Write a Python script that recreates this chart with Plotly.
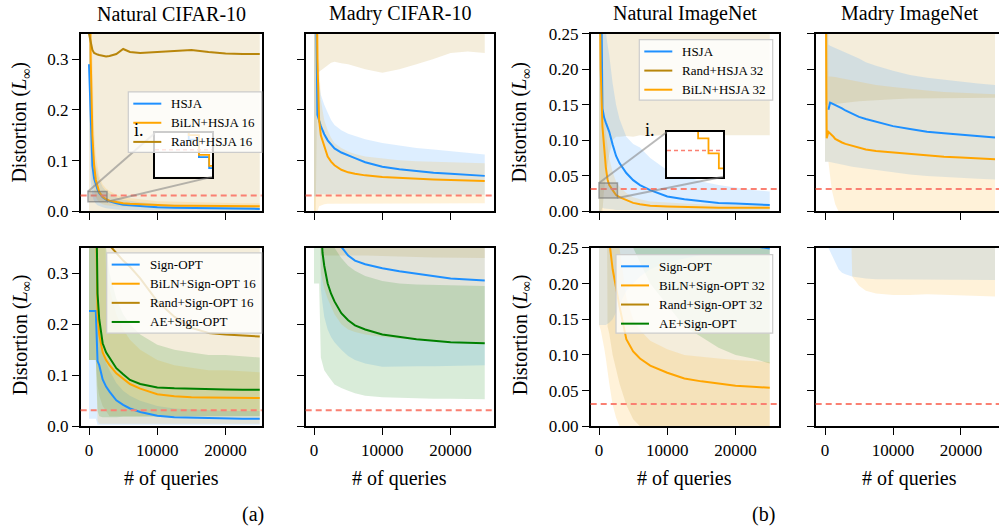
import plotly.graph_objects as go

W, H = 999, 529
FONT = "Liberation Serif"
EPS = 8 / 255

# ---------------- data ----------------
Q = [0, 250, 500, 750, 1000, 1250, 1500, 2000, 2500, 3000, 4000, 5000, 6000,
     7500, 10000, 12500, 15000, 17500, 20000, 22500, 25000]

# Panel 1: Natural CIFAR-10, HSJA
nc_hsja = [0.29, 0.17, 0.09, 0.065, 0.052, 0.043, 0.036, 0.028, 0.023, 0.02, 0.016, 0.013, 0.012, 0.01, 0.008, 0.007, 0.0065, 0.006, 0.0055, 0.005, 0.005]
nc_biln = [0.6, 0.3, 0.15, 0.09, 0.062, 0.047, 0.038, 0.029, 0.024, 0.021, 0.018, 0.016, 0.015, 0.014, 0.012, 0.011, 0.011, 0.0105, 0.01, 0.01, 0.01]
nc_rand = [0.35, 0.33, 0.318, 0.312, 0.31, 0.309, 0.308, 0.306, 0.305, 0.306, 0.31, 0.32, 0.314, 0.312, 0.314, 0.315, 0.318, 0.314, 0.311, 0.31, 0.31]
nc_hsja_lo = [0.2, 0.06, 0.03, 0.02, 0.015, 0.012, 0.01, 0.008, 0.006, 0.005, 0.004, 0.003, 0.003, 0.002, 0.002, 0.002, 0.002, 0.002, 0.002, 0.002, 0.002]
nc_hsja_hi = [0.35, 0.28, 0.15, 0.11, 0.09, 0.075, 0.062, 0.048, 0.04, 0.035, 0.028, 0.023, 0.021, 0.018, 0.015, 0.013, 0.012, 0.011, 0.01, 0.0095, 0.009]
nc_biln_lo = [0.3, 0.12, 0.06, 0.04, 0.028, 0.022, 0.018, 0.014, 0.012, 0.011, 0.01, 0.009, 0.008, 0.008, 0.007, 0.007, 0.007, 0.006, 0.006, 0.006, 0.006]
nc_biln_hi = [0.6, 0.45, 0.25, 0.16, 0.11, 0.085, 0.07, 0.053, 0.045, 0.04, 0.033, 0.028, 0.026, 0.024, 0.02, 0.019, 0.018, 0.017, 0.016, 0.016, 0.016]
nc_rand_lo = [0.0, 0.0, 0.0, 0.0, 0.0, 0.0, 0.0, 0.0, 0.0, 0.0, 0.0, 0.0, 0.0, 0.0, 0.0, 0.0, 0.0, 0.0, 0.0, 0.0, 0.0]
nc_rand_hi = [0.6, 0.6, 0.6, 0.6, 0.6, 0.6, 0.6, 0.6, 0.6, 0.6, 0.6, 0.6, 0.6, 0.6, 0.6, 0.6, 0.6, 0.6, 0.6, 0.6, 0.6]

# Panel 2: Madry CIFAR-10, HSJA
mc_hsja = [0.6, 0.5, 0.19, 0.178, 0.168, 0.16, 0.152, 0.14, 0.131, 0.124, 0.116, 0.11, 0.105, 0.097, 0.088, 0.083, 0.079, 0.076, 0.074, 0.072, 0.07]
mc_biln = [0.6, 0.6, 0.3, 0.18, 0.15, 0.14, 0.128, 0.108, 0.098, 0.091, 0.082, 0.077, 0.074, 0.071, 0.068, 0.066, 0.064, 0.063, 0.062, 0.061, 0.06]
mc_hsja_lo = [0.03, 0.03, 0.035, 0.035, 0.034, 0.034, 0.033, 0.033, 0.033, 0.033, 0.033, 0.033, 0.033, 0.033, 0.033, 0.033, 0.033, 0.033, 0.033, 0.033, 0.033]
mc_hsja_hi = [0.6, 0.6, 0.28, 0.25, 0.23, 0.22, 0.21, 0.195, 0.18, 0.17, 0.16, 0.153, 0.148, 0.142, 0.135, 0.13, 0.125, 0.122, 0.119, 0.115, 0.112]
mc_biln_lo = [0.0, 0.0, 0.0, 0.01, 0.012, 0.013, 0.014, 0.015, 0.015, 0.015, 0.015, 0.015, 0.015, 0.016, 0.016, 0.016, 0.016, 0.016, 0.016, 0.016, 0.016]
mc_biln_hi = [0.6, 0.6, 0.6, 0.3, 0.22, 0.2, 0.18, 0.16, 0.145, 0.135, 0.125, 0.118, 0.113, 0.108, 0.104, 0.101, 0.099, 0.098, 0.097, 0.096, 0.095]
mc_rand_lo = [0.0, 0.0, 0.27, 0.275, 0.278, 0.28, 0.282, 0.288, 0.293, 0.295, 0.292, 0.29, 0.286, 0.28, 0.273, 0.28, 0.29, 0.3, 0.312, 0.315, 0.312]
mc_rand_hi = [0.6, 0.6, 0.6, 0.6, 0.6, 0.6, 0.6, 0.6, 0.6, 0.6, 0.6, 0.6, 0.6, 0.6, 0.6, 0.6, 0.6, 0.6, 0.6, 0.6, 0.6]

# Panel 3: Natural ImageNet, HSJA
ni_hsja = [0.4, 0.4, 0.145, 0.132, 0.125, 0.118, 0.112, 0.094, 0.078, 0.068, 0.054, 0.044, 0.037, 0.03, 0.021, 0.017, 0.014, 0.012, 0.011, 0.01, 0.009]
ni_biln = [0.4, 0.2, 0.12, 0.085, 0.062, 0.045, 0.037, 0.03, 0.023, 0.02, 0.016, 0.012, 0.01, 0.008, 0.007, 0.006, 0.0055, 0.005, 0.005, 0.005, 0.005]
ni_hsja_lo = [0.0, 0.0, 0.005, 0.004, 0.004, 0.003, 0.003, 0.003, 0.002, 0.002, 0.002, 0.002, 0.002, 0.001, 0.001, 0.001, 0.001, 0.001, 0.001, 0.001, 0.001]
ni_hsja_hi = [0.6, 0.6, 0.3, 0.27, 0.25, 0.235, 0.22, 0.18, 0.15, 0.13, 0.105, 0.095, 0.09, 0.075, 0.058, 0.05, 0.042, 0.037, 0.033, 0.03, 0.028]
ni_biln_lo = [0.0, 0.0, 0.0, 0.0, 0.0, 0.0, 0.0, 0.0, 0.001, 0.001, 0.001, 0.001, 0.001, 0.001, 0.001, 0.001, 0.001, 0.001, 0.001, 0.001, 0.001]
ni_biln_hi = [0.6, 0.3, 0.2, 0.14, 0.11, 0.09, 0.075, 0.055, 0.042, 0.035, 0.026, 0.02, 0.017, 0.014, 0.012, 0.011, 0.01, 0.01, 0.009, 0.009, 0.009]
ni_rand_lo = [0.0, 0.0, 0.0, 0.03, 0.05, 0.065, 0.08, 0.1, 0.105, 0.105, 0.106, 0.105, 0.107, 0.106, 0.108, 0.107, 0.106, 0.107, 0.108, 0.107, 0.107]
ni_rand_hi = [0.6, 0.6, 0.6, 0.6, 0.6, 0.6, 0.6, 0.6, 0.6, 0.6, 0.6, 0.6, 0.6, 0.6, 0.6, 0.6, 0.6, 0.6, 0.6, 0.6, 0.6]

# Panel 4: Madry ImageNet, HSJA
mi_hsja = [None, None, 0.143, 0.153, 0.152, 0.151, 0.15, 0.147, 0.145, 0.142, 0.137, 0.133, 0.13, 0.126, 0.12, 0.116, 0.112, 0.11, 0.108, 0.106, 0.104]
mi_biln = [0.5, 0.103, 0.112, 0.11, 0.108, 0.105, 0.102, 0.099, 0.097, 0.095, 0.092, 0.089, 0.087, 0.085, 0.083, 0.08, 0.078, 0.077, 0.0757, 0.0745, 0.0735]
mi_hsja_lo = [0.07, 0.07, 0.07, 0.07, 0.07, 0.069, 0.068, 0.067, 0.066, 0.065, 0.063, 0.061, 0.06, 0.058, 0.055, 0.052, 0.05, 0.048, 0.047, 0.046, 0.045]
mi_hsja_hi = [0.6, 0.6, 0.235, 0.233, 0.232, 0.231, 0.23, 0.228, 0.226, 0.224, 0.22, 0.215, 0.21, 0.205, 0.198, 0.192, 0.188, 0.185, 0.182, 0.18, 0.178]
mi_biln_lo = [0.07, 0.07, 0.07, 0.05, 0.03, 0.02, 0.01, 0.0, 0.0, 0.0, 0.0, 0.0, 0.0, 0.0, 0.0, 0.0, 0.0, 0.0, 0.0, 0.0, 0.0]
mi_biln_hi = [0.6, 0.6, 0.19, 0.19, 0.19, 0.19, 0.189, 0.188, 0.187, 0.186, 0.184, 0.182, 0.18, 0.178, 0.175, 0.172, 0.17, 0.168, 0.167, 0.166, 0.165]
mi_rand_lo = [0.15, 0.15, 0.15, 0.15, 0.15, 0.15, 0.151, 0.152, 0.152, 0.153, 0.154, 0.155, 0.156, 0.157, 0.158, 0.159, 0.16, 0.16, 0.16, 0.16, 0.16]
mi_rand_hi = [0.6, 0.6, 0.6, 0.6, 0.6, 0.6, 0.6, 0.6, 0.6, 0.6, 0.6, 0.6, 0.6, 0.6, 0.6, 0.6, 0.6, 0.6, 0.6, 0.6, 0.6]

# Panel 5: Natural CIFAR-10, Sign-OPT
ncs_sign = [0.226, 0.226, 0.226, 0.226, 0.226, 0.128, 0.12, 0.092, 0.078, 0.068, 0.051, 0.042, 0.035, 0.028, 0.021, 0.018, 0.017, 0.016, 0.016, 0.015, 0.015]
ncs_biln = [0.6, 0.6, 0.6, 0.6, 0.45, 0.22, 0.18, 0.145, 0.13, 0.12, 0.104, 0.094, 0.083, 0.074, 0.063, 0.059, 0.057, 0.0565, 0.056, 0.0558, 0.0555]
ncs_rand = [0.6, 0.6, 0.6, 0.6, 0.6, 0.6, 0.6, 0.6, 0.6, 0.355, 0.34, 0.325, 0.313, 0.29, 0.245, 0.215, 0.193, 0.183, 0.18, 0.178, 0.176]
ncs_ae = [0.6, 0.6, 0.6, 0.6, 0.5, 0.26, 0.21, 0.163, 0.145, 0.134, 0.114, 0.102, 0.091, 0.083, 0.076, 0.0745, 0.0735, 0.073, 0.0725, 0.072, 0.0717]
ncs_sign_lo = [0.015, 0.015, 0.015, 0.015, 0.015, 0.003, 0.003, 0.003, 0.003, 0.003, 0.003, 0.003, 0.003, 0.003, 0.003, 0.003, 0.003, 0.003, 0.003, 0.003, 0.003]
ncs_sign_hi = [0.6, 0.6, 0.6, 0.6, 0.6, 0.2, 0.18, 0.15, 0.125, 0.11, 0.085, 0.07, 0.06, 0.05, 0.04, 0.035, 0.033, 0.031, 0.03, 0.03, 0.03]
ncs_biln_lo = [0.13, 0.13, 0.13, 0.13, 0.13, 0.01, 0.005, 0.005, 0.005, 0.005, 0.005, 0.005, 0.005, 0.005, 0.005, 0.005, 0.005, 0.005, 0.005, 0.005, 0.005]
ncs_biln_hi = [0.6, 0.6, 0.6, 0.6, 0.6, 0.6, 0.6, 0.6, 0.3, 0.27, 0.22, 0.19, 0.17, 0.15, 0.13, 0.12, 0.115, 0.11, 0.11, 0.108, 0.106]
ncs_rand_lo = [0.13, 0.13, 0.13, 0.13, 0.13, 0.08, 0.06, 0.04, 0.03, 0.02, 0.02, 0.02, 0.02, 0.02, 0.02, 0.02, 0.02, 0.02, 0.02, 0.02, 0.02]
ncs_rand_hi = [0.6, 0.6, 0.6, 0.6, 0.6, 0.6, 0.6, 0.6, 0.6, 0.6, 0.6, 0.6, 0.6, 0.6, 0.6, 0.6, 0.6, 0.6, 0.6, 0.6, 0.6]
ncs_ae_lo = [0.13, 0.13, 0.13, 0.13, 0.13, 0.03, 0.02, 0.018, 0.018, 0.018, 0.018, 0.019, 0.019, 0.019, 0.02, 0.02, 0.02, 0.02, 0.02, 0.02, 0.02]
ncs_ae_hi = [0.6, 0.6, 0.6, 0.6, 0.6, 0.6, 0.6, 0.6, 0.35, 0.3, 0.25, 0.22, 0.2, 0.18, 0.16, 0.15, 0.145, 0.14, 0.14, 0.138, 0.135]

# Panel 6: Madry CIFAR-10, Sign-OPT
mcs_sign = [0.6, 0.6, 0.6, 0.6, 0.6, 0.6, 0.6, 0.6, 0.6, 0.45, 0.352, 0.335, 0.325, 0.318, 0.31, 0.304, 0.299, 0.294, 0.29, 0.288, 0.286]
mcs_ae = [0.6, 0.6, 0.6, 0.6, 0.4, 0.34, 0.315, 0.28, 0.26, 0.245, 0.222, 0.208, 0.198, 0.19, 0.18, 0.175, 0.171, 0.168, 0.165, 0.164, 0.163]
mcs_rand_lo = [0.6, 0.6, 0.6, 0.6, 0.335, 0.335, 0.335, 0.335, 0.335, 0.335, 0.335, 0.335, 0.335, 0.335, 0.335, 0.333, 0.332, 0.331, 0.33, 0.33, 0.33]
mcs_rand_hi = [0.6, 0.6, 0.6, 0.6, 0.6, 0.6, 0.6, 0.6, 0.6, 0.6, 0.6, 0.6, 0.6, 0.6, 0.6, 0.6, 0.6, 0.6, 0.6, 0.6, 0.6]
mcs_sign_lo = [0.6, 0.6, 0.6, 0.6, 0.27, 0.24, 0.215, 0.19, 0.175, 0.165, 0.15, 0.138, 0.13, 0.123, 0.117, 0.117, 0.118, 0.118, 0.119, 0.119, 0.12]
mcs_sign_hi = [0.6, 0.6, 0.6, 0.6, 0.6, 0.6, 0.6, 0.6, 0.6, 0.6, 0.6, 0.6, 0.6, 0.6, 0.6, 0.6, 0.6, 0.6, 0.6, 0.6, 0.6]
mcs_biln_lo = [0.6, 0.6, 0.6, 0.6, 0.3, 0.285, 0.27, 0.25, 0.235, 0.22, 0.2, 0.19, 0.185, 0.18, 0.175, 0.172, 0.17, 0.168, 0.167, 0.166, 0.165]
mcs_biln_hi = [0.6, 0.6, 0.6, 0.6, 0.6, 0.6, 0.6, 0.6, 0.6, 0.6, 0.6, 0.6, 0.6, 0.6, 0.6, 0.6, 0.6, 0.6, 0.6, 0.6, 0.6]
mcs_ae_lo = [0.28, 0.28, 0.28, 0.28, 0.135, 0.125, 0.11, 0.1, 0.09, 0.082, 0.075, 0.07, 0.065, 0.06, 0.057, 0.055, 0.055, 0.054, 0.054, 0.054, 0.053]
mcs_ae_hi = [0.6, 0.6, 0.6, 0.6, 0.6, 0.6, 0.45, 0.4, 0.37, 0.35, 0.33, 0.315, 0.305, 0.295, 0.285, 0.28, 0.278, 0.277, 0.276, 0.275, 0.275]

# Panel 7: Natural ImageNet, Sign-OPT
nis_sign = [0.5, 0.5, 0.5, 0.5, 0.5, 0.48, 0.46, 0.44, 0.42, 0.4, 0.37, 0.35, 0.335, 0.32, 0.3, 0.285, 0.272, 0.263, 0.257, 0.253, 0.249]
nis_biln = [0.5, 0.5, 0.5, 0.5, 0.5, 0.3, 0.26, 0.22, 0.193, 0.168, 0.122, 0.105, 0.095, 0.085, 0.075, 0.067, 0.063, 0.06, 0.057, 0.0555, 0.054]
nis_rand_lo = [0.6, 0.6, 0.6, 0.6, 0.6, 0.14, 0.13, 0.1, 0.08, 0.06, 0.03, 0.01, 0.0, 0.0, 0.0, 0.0, 0.0, 0.0, 0.0, 0.0, 0.0]
nis_rand_hi = [0.6, 0.6, 0.6, 0.6, 0.6, 0.6, 0.6, 0.6, 0.6, 0.6, 0.6, 0.6, 0.6, 0.6, 0.6, 0.6, 0.6, 0.6, 0.6, 0.6, 0.6]
nis_sign_lo = [0.142, 0.142, 0.142, 0.142, 0.142, 0.143, 0.145, 0.15, 0.16, 0.17, 0.19, 0.2, 0.21, 0.22, 0.23, 0.235, 0.24, 0.24, 0.24, 0.24, 0.24]
nis_sign_hi = [0.6, 0.6, 0.6, 0.6, 0.6, 0.6, 0.6, 0.6, 0.6, 0.6, 0.6, 0.6, 0.6, 0.6, 0.6, 0.6, 0.6, 0.6, 0.6, 0.6, 0.6]
nis_biln_lo = [0.142, 0.135, 0.125, 0.11, 0.095, 0.08, 0.06, 0.03, 0.012, 0.0, 0.0, 0.0, 0.0, 0.0, 0.0, 0.0, 0.0, 0.0, 0.0, 0.0, 0.0]
nis_biln_hi = [0.6, 0.6, 0.6, 0.6, 0.6, 0.6, 0.6, 0.6, 0.6, 0.25, 0.18, 0.15, 0.135, 0.12, 0.108, 0.1, 0.097, 0.095, 0.093, 0.092, 0.09]
nis_ae_lo = [0.6, 0.6, 0.6, 0.6, 0.6, 0.6, 0.6, 0.6, 0.6, 0.6, 0.6, 0.25, 0.23, 0.2, 0.17, 0.14, 0.125, 0.11, 0.1, 0.095, 0.088]
nis_ae_hi = [0.6, 0.6, 0.6, 0.6, 0.6, 0.6, 0.6, 0.6, 0.6, 0.6, 0.6, 0.6, 0.6, 0.6, 0.6, 0.6, 0.6, 0.6, 0.6, 0.6, 0.6]

# Panel 8: Madry ImageNet, Sign-OPT
mis_sign_lo = [0.25, 0.25, 0.25, 0.245, 0.24, 0.235, 0.23, 0.22, 0.215, 0.213, 0.21, 0.208, 0.207, 0.206, 0.206, 0.206, 0.205, 0.205, 0.205, 0.205, 0.205]
mis_sign_hi = [0.6, 0.6, 0.6, 0.6, 0.6, 0.6, 0.6, 0.6, 0.6, 0.6, 0.6, 0.6, 0.6, 0.6, 0.6, 0.6, 0.6, 0.6, 0.6, 0.6, 0.6]
mis_biln_lo = [0.6, 0.6, 0.6, 0.6, 0.6, 0.6, 0.6, 0.6, 0.6, 0.6, 0.21, 0.197, 0.19, 0.186, 0.184, 0.184, 0.185, 0.184, 0.183, 0.183, 0.182]
mis_biln_hi = [0.6, 0.6, 0.6, 0.6, 0.6, 0.6, 0.6, 0.6, 0.6, 0.6, 0.6, 0.6, 0.6, 0.6, 0.6, 0.6, 0.6, 0.6, 0.6, 0.6, 0.6]

TITLES = ["Natural CIFAR-10", "Madry CIFAR-10", "Natural ImageNet", "Madry ImageNet"]
CIFAR_TICKS = [0.0, 0.1, 0.2, 0.3]
CIFAR_TICKTEXT = ["0.0", "0.1", "0.2", "0.3"]
IMNET_TICKS = [0.0, 0.05, 0.10, 0.15, 0.20, 0.25]
IMNET_TICKTEXT = ["0.00", "0.05", "0.10", "0.15", "0.20", "0.25"]
X_TICKS = [0, 10000, 20000]
X_TICKTEXT = ["0", "10000", "20000"]

LEG1_NAMES = ["HSJA", "BiLN+HSJA 16", "Rand+HSJA 16"]
LEG2_NAMES = ["HSJA", "Rand+HSJA 32", "BiLN+HSJA 32"]
LEG3_NAMES = ["Sign-OPT", "BiLN+Sign-OPT 16", "Rand+Sign-OPT 16", "AE+Sign-OPT"]
LEG4_NAMES = ["Sign-OPT", "BiLN+Sign-OPT 32", "Rand+Sign-OPT 32", "AE+Sign-OPT"]

# zoom boxes of the insets (data space)
ZOOM1 = dict(x0=-150, x1=2640, y0=0.019, y1=0.039)
ZOOM3 = dict(x0=0, x1=2700, y0=0.019, y1=0.040)

# ---------------- style / layout ----------------
BLUE = "#1E90FF"
ORANGE = "#FFA500"
GOLD = "#B8860B"
GREEN = "#008000"
RED = "#FA8072"
ALPHA = 0.15

# vertical placement correction (the page is photographed slightly squeezed vertically)
YC = 264.5
YS = 1 / 0.968


def vy(y):
    return YC + (y - YC) * YS


def rgba(h, a):
    h = h.lstrip("#")
    return f"rgba({int(h[0:2], 16)},{int(h[2:4], 16)},{int(h[4:6], 16)},{a})"


COLS_PX = [(80.7, 261.7), (305.7, 494.0), (590.7, 779.0), (815.7, 999.0)]
XRANGES = [(-1215, 25285), (-1215, 26354), (-1215, 26354), (-1370, 25590)]
ROWS_PX = [(33.3, 211.7), (248.3, 427.5)]


def xdom(px):
    return [px[0] / W, px[1] / W]


def py(y):
    return 1 - vy(y) / H


def ydom(px):
    return [py(px[1]), py(px[0])]


fig = go.Figure()


def ax_ids(k):
    return ("x" if k == 1 else f"x{k}"), ("y" if k == 1 else f"y{k}")


def add_band(k, lo, hi, color):
    xa, ya = ax_ids(k)
    fig.add_trace(go.Scatter(
        x=Q + Q[::-1], y=hi + lo[::-1], xaxis=xa, yaxis=ya,
        mode="lines", fill="toself", fillcolor=rgba(color, ALPHA),
        line=dict(width=0, color=rgba(color, 0)), hoverinfo="skip", showlegend=False))


def add_line(k, y, color, name=None, width=2.0):
    xa, ya = ax_ids(k)
    fig.add_trace(go.Scatter(
        x=Q, y=y, xaxis=xa, yaxis=ya, mode="lines", name=name,
        line=dict(color=color, width=width), showlegend=False))


# Panel 1
add_band(1, nc_rand_lo, nc_rand_hi, GOLD)
add_band(1, nc_hsja_lo, nc_hsja_hi, BLUE)
add_band(1, nc_biln_lo, nc_biln_hi, ORANGE)
add_line(1, nc_hsja, BLUE, LEG1_NAMES[0])
add_line(1, nc_biln, ORANGE, LEG1_NAMES[1])
add_line(1, nc_rand, GOLD, LEG1_NAMES[2])

# Panel 2
add_band(2, mc_rand_lo, mc_rand_hi, GOLD)
add_band(2, mc_hsja_lo, mc_hsja_hi, BLUE)
add_band(2, mc_biln_lo, mc_biln_hi, ORANGE)
add_line(2, mc_hsja, BLUE, "HSJA")
add_line(2, mc_biln, ORANGE, "BiLN+HSJA 16")

# Panel 3
add_band(3, ni_rand_lo, ni_rand_hi, GOLD)
add_band(3, ni_hsja_lo, ni_hsja_hi, BLUE)
add_band(3, ni_biln_lo, ni_biln_hi, ORANGE)
add_line(3, ni_hsja, BLUE, LEG2_NAMES[0])
add_line(3, ni_biln, ORANGE, LEG2_NAMES[2])

# Panel 4
add_band(4, mi_rand_lo, mi_rand_hi, GOLD)
add_band(4, mi_hsja_lo, mi_hsja_hi, BLUE)
add_band(4, mi_biln_lo, mi_biln_hi, ORANGE)
add_line(4, mi_hsja, BLUE, "HSJA")
add_line(4, mi_biln, ORANGE, "BiLN+HSJA 32")

# Panel 5
add_band(5, ncs_rand_lo, ncs_rand_hi, GOLD)
add_band(5, ncs_sign_lo, ncs_sign_hi, BLUE)
add_band(5, ncs_biln_lo, ncs_biln_hi, ORANGE)
add_band(5, ncs_ae_lo, ncs_ae_hi, GREEN)
add_line(5, ncs_sign, BLUE, LEG3_NAMES[0])
add_line(5, ncs_biln, ORANGE, LEG3_NAMES[1])
add_line(5, ncs_rand, GOLD, LEG3_NAMES[2])
add_line(5, ncs_ae, GREEN, LEG3_NAMES[3])

# Panel 6
add_band(6, mcs_rand_lo, mcs_rand_hi, GOLD)
add_band(6, mcs_sign_lo, mcs_sign_hi, BLUE)
add_band(6, mcs_biln_lo, mcs_biln_hi, ORANGE)
add_band(6, mcs_ae_lo, mcs_ae_hi, GREEN)
add_line(6, mcs_sign, BLUE, "Sign-OPT")
add_line(6, mcs_ae, GREEN, "AE+Sign-OPT")

# Panel 7
add_band(7, nis_rand_lo, nis_rand_hi, GOLD)
add_band(7, nis_sign_lo, nis_sign_hi, BLUE)
add_band(7, nis_biln_lo, nis_biln_hi, ORANGE)
add_band(7, nis_ae_lo, nis_ae_hi, GREEN)
add_line(7, nis_sign, BLUE, LEG4_NAMES[0])
add_line(7, nis_biln, ORANGE, LEG4_NAMES[1])

# Panel 8
add_band(8, mis_sign_lo, mis_sign_hi, BLUE)
add_band(8, mis_biln_lo, mis_biln_hi, ORANGE)

layout = dict(
    width=W, height=H, autosize=False, margin=dict(l=0, r=0, t=0, b=0),
    paper_bgcolor="white", plot_bgcolor="rgba(0,0,0,0)",
    font=dict(family=FONT, size=17, color="black"), showlegend=False,
)

shapes = []
annotations = []

for k in range(1, 9):
    row = 0 if k <= 4 else 1
    col = (k - 1) % 4
    xa, ya = ax_ids(k)
    imnet = col >= 2
    xkey = "xaxis" if k == 1 else f"xaxis{k}"
    ykey = "yaxis" if k == 1 else f"yaxis{k}"
    layout[xkey] = dict(
        domain=xdom(COLS_PX[col]), anchor=ya, range=list(XRANGES[col]),
        tickvals=X_TICKS, ticktext=X_TICKTEXT, showticklabels=(row == 1),
        ticks="outside", ticklen=7, tickwidth=1.3, tickcolor="black",
        showline=True, linecolor="black", linewidth=1.6, mirror=True,
        showgrid=False, zeroline=False, tickfont=dict(size=17, family=FONT))
    layout[ykey] = dict(
        domain=ydom(ROWS_PX[row]), anchor=xa,
        range=[0, 0.25] if imnet else [0, 0.35],
        tickvals=IMNET_TICKS if imnet else CIFAR_TICKS,
        ticktext=IMNET_TICKTEXT if imnet else CIFAR_TICKTEXT,
        showticklabels=(col in (0, 2)),
        ticks="outside", ticklen=7, tickwidth=1.3, tickcolor="black",
        showline=True, linecolor="black", linewidth=1.6, mirror=(col != 3),
        showgrid=False, zeroline=False, tickfont=dict(size=17, family=FONT))
    shapes.append(dict(type="line", xref=f"{xa} domain", yref=ya, x0=0, x1=1,
                       y0=EPS, y1=EPS, line=dict(color=RED, width=2, dash="6px,4px"),
                       layer="above"))

# ---------------- insets ----------------
INSETS = [
    dict(k=9, parent=1, col=0, row=0, zoom=ZOOM1, px=(155, 212), py=(133, 177),
         series=[(nc_hsja, BLUE), (nc_biln, ORANGE)], label_xy=(139, 130)),
    dict(k=10, parent=3, col=2, row=0, zoom=ZOOM3, px=(667, 723), py=(132, 177),
         series=[(ni_biln, ORANGE)], label_xy=(650, 130)),
]


def data_to_paper(col, row, x, y, imnet):
    x0p, x1p = COLS_PX[col]
    r0, r1 = XRANGES[col]
    top, bot = ydom(ROWS_PX[row])[1], ydom(ROWS_PX[row])[0]
    ytop = 0.25 if imnet else 0.35
    pxx = x0p + (x - r0) / (r1 - r0) * (x1p - x0p)
    return pxx / W, bot + y / ytop * (top - bot)


for ins in INSETS:
    k = ins["k"]
    z = ins["zoom"]
    xa, ya = f"x{k}", f"y{k}"
    pxa, pya = ax_ids(ins["parent"])
    dx = (z["x1"] - z["x0"]) * 0.05
    dy = (z["y1"] - z["y0"]) * 0.05
    fig.add_trace(go.Scatter(
        x=[z["x0"] - dx, z["x1"] + dx, z["x1"] + dx, z["x0"] - dx, z["x0"] - dx],
        y=[z["y0"] - dy, z["y0"] - dy, z["y1"] + dy, z["y1"] + dy, z["y0"] - dy],
        xaxis=xa, yaxis=ya, mode="lines", fill="toself", fillcolor="white",
        line=dict(width=0, color="white"), hoverinfo="skip", showlegend=False))
    for s, c in ins["series"]:
        fig.add_trace(go.Scatter(x=Q, y=s, xaxis=xa, yaxis=ya, mode="lines",
                                 line=dict(color=c, width=1.8, shape="hv"),
                                 showlegend=False, hoverinfo="skip"))
    layout[f"xaxis{k}"] = dict(domain=[ins["px"][0] / W, ins["px"][1] / W], anchor=ya,
                               range=[z["x0"], z["x1"]], showticklabels=False, ticks="",
                               showline=True, linecolor="black", linewidth=1.6, mirror=True,
                               showgrid=False, zeroline=False)
    layout[f"yaxis{k}"] = dict(domain=[py(ins["py"][1]), py(ins["py"][0])], anchor=xa,
                               range=[z["y0"], z["y1"]], showticklabels=False, ticks="",
                               showline=True, linecolor="black", linewidth=1.6, mirror=True,
                               showgrid=False, zeroline=False)
    shapes.append(dict(type="line", xref=f"{xa} domain", yref=ya, x0=0, x1=1,
                       y0=EPS, y1=EPS, line=dict(color=RED, width=1.5, dash="4px,3px"),
                       layer="above"))
    shapes.append(dict(type="rect", xref=pxa, yref=pya, x0=z["x0"], x1=z["x1"],
                       y0=z["y0"], y1=z["y1"], fillcolor="rgba(128,128,128,0.3)",
                       line=dict(color="rgba(110,110,110,0.6)", width=1.5), layer="above"))
    imnet = ins["col"] >= 2
    ul = data_to_paper(ins["col"], ins["row"], z["x0"], z["y1"], imnet)
    lr = data_to_paper(ins["col"], ins["row"], z["x1"], z["y0"], imnet)
    iul = (ins["px"][0] / W, py(ins["py"][0]))
    ilr = (ins["px"][1] / W, py(ins["py"][1]))
    for a, b in ((ul, iul), (lr, ilr)):
        shapes.append(dict(type="line", xref="paper", yref="paper", x0=a[0], y0=a[1],
                           x1=b[0], y1=b[1], line=dict(color="rgba(128,128,128,0.55)", width=2),
                           layer="above"))
    annotations.append(dict(text="i.", x=ins["label_xy"][0] / W, y=py(ins["label_xy"][1]),
                            xref="paper", yref="paper", showarrow=False,
                            font=dict(size=18, family=FONT), xanchor="center", yanchor="middle"))

# ---------------- legends (drawn as boxes, line keys and text) ----------------
LEGENDS = [
    dict(box=(128.3, 91.7, 261.7, 152.5), names=LEG1_NAMES, colors=[BLUE, ORANGE, GOLD]),
    dict(box=(639.3, 39.3, 772.7, 100.0), names=LEG2_NAMES, colors=[BLUE, GOLD, ORANGE]),
    dict(box=(106.7, 253.3, 261.7, 334.0), names=LEG3_NAMES, colors=[BLUE, ORANGE, GOLD, GREEN]),
    dict(box=(616.0, 255.0, 772.7, 334.0), names=LEG4_NAMES, colors=[BLUE, ORANGE, GOLD, GREEN]),
]
ROW_STEP = 19.2
for lg in LEGENDS:
    bx0, by0, bx1, by1 = lg["box"]
    shapes.append(dict(type="rect", xref="paper", yref="paper",
                       x0=bx0 / W, x1=bx1 / W, y0=py(by1), y1=py(by0),
                       fillcolor="rgba(255,255,255,0.8)",
                       line=dict(color="#cccccc", width=1.2), layer="above"))
    for i, (nm, c) in enumerate(zip(lg["names"], lg["colors"])):
        cy = by0 + 11.8 + i * ROW_STEP
        shapes.append(dict(type="line", xref="paper", yref="paper",
                           x0=(bx0 + 5) / W, x1=(bx0 + 33) / W, y0=py(cy), y1=py(cy),
                           line=dict(color=c, width=2), layer="above"))
        annotations.append(dict(text=nm, x=(bx0 + 41) / W, y=py(cy), xref="paper",
                                yref="paper", showarrow=False, xanchor="left", yanchor="middle",
                                font=dict(size=13, family=FONT)))

# ---------------- text ----------------
for col, t in enumerate(TITLES):
    cx = (COLS_PX[col][0] + (COLS_PX[col][1] if col < 3 else 1003.7)) / 2
    annotations.append(dict(text=t, x=cx / W, y=py(13), xref="paper", yref="paper",
                            showarrow=False, font=dict(size=20, family=FONT),
                            xanchor="center", yanchor="middle"))
    annotations.append(dict(text="# of queries", x=cx / W, y=py(480), xref="paper",
                            yref="paper", showarrow=False, font=dict(size=20, family=FONT),
                            xanchor="center", yanchor="middle"))

for cxp in (21, 521):
    for cy in (122.5, 336):
        annotations.append(dict(text="Distortion (<i>L</i><sub>∞</sub>)", x=cxp / W,
                                y=py(cy), xref="paper", yref="paper", showarrow=False,
                                textangle=-90, font=dict(size=20, family=FONT),
                                xanchor="center", yanchor="middle"))

annotations.append(dict(text="(a)", x=253 / W, y=py(516), xref="paper", yref="paper",
                        showarrow=False, font=dict(size=20, family=FONT),
                        xanchor="center", yanchor="middle"))
annotations.append(dict(text="(b)", x=763 / W, y=py(516), xref="paper", yref="paper",
                        showarrow=False, font=dict(size=20, family=FONT),
                        xanchor="center", yanchor="middle"))

layout["shapes"] = shapes
layout["annotations"] = annotations
fig.update_layout(**layout)
fig.write_html("out.html", config={"displayModeBar": False},
               post_script="document.body.style.margin='0';document.body.style.overflow='hidden';")
